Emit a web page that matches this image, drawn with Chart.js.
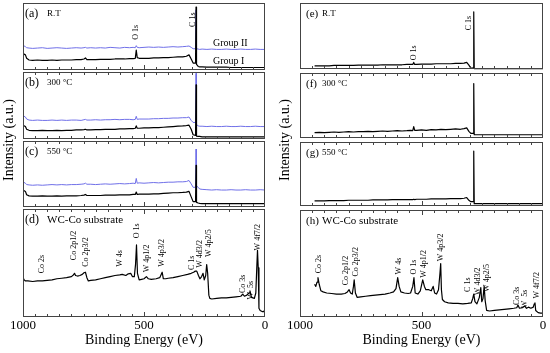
<!DOCTYPE html>
<html>
<head>
<meta charset="utf-8">
<script src="https://cdn.jsdelivr.net/npm/chart.js@4.4.1/dist/chart.umd.min.js"></script>
<style>
body { margin: 0; background: #fff; }
#wrap { position: relative; width: 550px; height: 353px; }
.box { position: absolute; top: 0; width: 275px; height: 353px; }
</style>
</head>
<body>
<div id="wrap">
  <div class="box" style="left:0"><canvas id="leftChart" width="275" height="353"></canvas></div>
  <div class="box" style="left:275px"><canvas id="rightChart" width="275" height="353"></canvas></div>
</div>
<script>
// energy grid (eV) used for panels a-c
var energyLeft = [1000, 990, 985, 975, 960, 940, 920, 900, 880, 860, 840, 820, 800, 780, 760, 748, 742, 736, 720, 700,
  680, 660, 640, 620, 600, 580, 560, 545, 536, 532, 528, 520, 500, 480, 460, 440, 420, 400, 380, 360,
  340, 325, 314, 305, 297, 287, 285, 283, 276, 270, 260, 240, 220, 200, 180, 160, 140, 120, 100, 80,
  60, 40, 20, 0];

// Group I (black) and Group II (blue), intensity in panel units (0-100)
var groupI_RT = [26, 24, 19, 16.5, 16, 16.5, 16, 16, 16.5, 16, 16.5, 16.5, 16.5, 17, 17, 18, 19.5, 17, 17, 17,
  17.5, 17.5, 17.5, 18, 18, 18, 18.5, 18.5, 19, 31, 20, 19, 19, 19, 19.5, 19.5, 20, 20, 20.5, 21,
  21, 22, 24, 18, 12, 12, 94, 10, 7, 6.5, 6.5, 6, 6, 6, 6, 6, 5.5, 5.5, 5.5, 5.5, 5.5, 5.5, 5.5, 5.5];
var groupII_RT = [38, 36, 34.5, 34, 33.5, 34, 34.5, 33.5, 34, 34.5, 34, 33.5, 34, 34.5, 34, 34.5, 35, 34, 34.5, 34,
  34.5, 34, 35, 34.5, 34, 35, 34.5, 35, 34.5, 37.5, 35, 34.5, 35, 35.5, 35, 35.5, 35, 35.5, 36, 35.5,
  36, 36.5, 37, 35, 33, 33, 90, 33, 32.5, 32, 32.5, 32, 32.5, 32, 32, 32.5, 32, 32, 32.5, 32, 32, 32.5, 32, 32];
var groupI_300 = [21, 19, 15, 13.5, 13, 13, 13.5, 13, 13, 13.5, 13, 13.5, 13.5, 14, 14, 14.5, 15, 14, 14, 14.5,
  14.5, 15, 15, 15, 15.5, 15.5, 16, 16, 16.5, 20, 16.5, 16.5, 17, 17, 17.5, 17.5, 18, 18.5, 19, 19.5,
  20, 20.5, 21, 15, 7, 6, 80, 5, 4.5, 4.5, 4, 4, 4, 4, 4, 4, 4, 4, 4, 4, 4, 4, 4, 4];
var groupII_300 = [35, 33, 30, 28.5, 28, 28.5, 28, 28, 28.5, 28, 28.5, 28, 28.5, 28.5, 28, 29, 29.5, 28.5, 28.5, 29,
  28.5, 29, 29, 29.5, 29, 29.5, 29.5, 29, 29.5, 34, 29.5, 30, 30, 30, 30.5, 30.5, 31, 31, 31.5, 31.5,
  32, 32, 33, 28, 25, 25, 97, 22, 20, 19.5, 19.5, 19, 19.5, 19, 19, 19.5, 19, 19, 19.5, 19, 19, 19.5, 19, 19];
var groupI_550 = [26, 24, 19, 17.5, 17, 17, 17.5, 17, 17, 17.5, 17, 17.5, 17.5, 17.5, 18, 18.5, 19.5, 18, 18, 18,
  18, 18.5, 18.5, 18.5, 19, 19, 19, 19.5, 19.5, 23, 19.5, 20, 20, 20, 20.5, 20.5, 21, 21.5, 22, 22,
  22.5, 23, 24, 16, 9, 9, 62, 8, 7, 6.5, 6, 6, 6, 6, 6, 6, 6, 6, 6, 6, 6, 6, 6, 6];
var groupII_550 = [38, 36, 34, 33.5, 33, 33.5, 33, 33.5, 34, 33.5, 34, 33.5, 34, 34, 34.5, 35, 36, 34.5, 34.5, 34,
  34.5, 35, 34.5, 35, 35.5, 35, 35.5, 36, 35.5, 43, 36, 36.5, 36, 36.5, 37, 36.5, 37, 37.5, 37.5, 38,
  38, 38.5, 40, 35, 30, 30, 86, 32, 30, 27.5, 27, 26.5, 26, 26.5, 26, 26, 26.5, 26, 26, 26.5, 26, 26, 26.5, 26];

// WC-Co substrate, left column (d)
var subEnergyL = [1000, 995, 990, 980, 960, 940, 920, 900, 880, 860, 840, 820, 800, 792, 787, 783, 775, 765, 755, 748,
  742, 736, 730, 720, 700, 680, 660, 640, 620, 600, 590, 575, 565, 555, 548, 540, 535, 531, 527, 520,
  510, 500, 490, 482, 470, 450, 435, 429, 425, 420, 410, 400, 380, 360, 340, 320, 305, 295, 288, 282,
  275, 269, 262, 256, 251, 245, 241, 237, 232, 228, 220, 200, 180, 160, 140, 120, 100, 92, 85, 75,
  66, 62, 56, 50, 44, 38, 34, 31, 28, 25, 20, 12, 5, 0];
var subValuesL = [36, 34, 33, 33, 32.5, 33, 33, 33.5, 34, 35, 35.5, 36, 37, 38.5, 40, 38, 37.5, 38, 39, 40.5,
  41, 36, 33, 33.5, 34, 35, 36, 37, 38, 38.5, 39, 38, 39.5, 40, 37, 37, 48, 66, 40, 34,
  34.5, 35, 37, 35, 34.5, 35, 36, 39, 41, 35, 35, 35.5, 36, 37, 38, 39, 40, 41, 42, 42,
  38, 35, 37, 40, 34, 38, 48, 40, 20, 17, 16.5, 17, 17.5, 17.5, 18, 18.5, 19, 21, 19, 20,
  22, 24, 18, 17.5, 17, 22, 45, 61, 45, 8, 6, 5, 5, 7];

// energy grid for panels e-g
var energyRight = [940, 920, 900, 880, 860, 840, 820, 800, 780, 760, 740, 720, 700, 680, 660, 640, 620, 600, 580, 560,
  545, 536, 532, 528, 520, 500, 480, 460, 440, 420, 400, 380, 360, 340, 325, 314, 305, 297, 291, 287,
  285, 283, 275, 270, 260, 240, 220, 200, 180, 160, 140, 120, 100, 80, 60, 40, 20, 0];
var sample_RT = [8, 8, 8, 8, 8.5, 8.5, 8.5, 8.5, 8.5, 9, 9, 9, 9, 9, 9.5, 9.5, 9.5, 9.5, 9.5, 10,
  10, 10, 13, 10, 10, 10.5, 10.5, 10.5, 11, 11, 11, 11, 11.5, 11.5, 12, 13, 9, 4.5, 4.5, 5,
  87, 4, 4, 4, 4, 4, 4, 4, 4, 4, 4, 4, 4, 4, 4, 4, 4, 4];
var sample_300 = [10, 10.5, 10, 10.5, 11, 10.5, 11, 11.5, 11, 11.5, 11.5, 12, 11.5, 12, 12.5, 12, 12.5, 13, 12.5, 13,
  13.5, 13, 19, 13.5, 13.5, 14, 13.5, 14.5, 14, 15, 14.5, 15, 15.5, 15, 16, 17, 12, 9, 9, 9,
  82, 7, 7, 7, 7, 7, 7, 7, 7, 7, 7, 7, 7, 7, 7, 7, 7, 7];
var sample_550 = [10, 10, 10, 10.5, 10.5, 10.5, 10.5, 11, 11, 11, 11, 11, 11.5, 11.5, 11.5, 11.5, 12, 12, 12, 12,
  12, 12, 12.5, 12, 12.5, 12.5, 12.5, 13, 13, 13, 13, 13.5, 13.5, 13.5, 14, 15, 11, 9, 9, 9,
  83, 6, 6, 6, 6, 6, 6, 6, 6, 6, 6, 6, 6, 6, 6, 6, 6, 6];

// WC-Co substrate, right column (h)
var subEnergyR = [940, 935, 930, 926, 921, 914, 905, 890, 870, 850, 830, 815, 805, 798, 792, 785, 780, 777, 772, 765,
  750, 730, 710, 690, 670, 650, 630, 615, 605, 598, 592, 585, 570, 555, 545, 536, 531, 526, 515, 505,
  495, 488, 482, 470, 460, 452, 446, 438, 430, 424, 421, 418, 414, 405, 390, 370, 350, 330, 310, 295,
  289, 285, 280, 272, 262, 256, 252, 247, 242, 238, 232, 220, 200, 180, 160, 140, 120, 108, 103, 97,
  85, 75, 68, 60, 50, 40, 36, 33, 30, 20, 10, 0];
var subValuesR = [30, 28, 32, 36, 30, 24, 23, 22, 21.5, 21, 21, 21.5, 23, 25, 22, 21, 28, 34, 22, 18,
  18.5, 19, 19.5, 20, 20.5, 21, 22, 23, 26, 36, 28, 23, 22, 21.5, 22, 28, 36, 22, 21, 24,
  34, 28, 25, 25, 24, 28, 22, 21, 25, 40, 49, 25, 16, 14, 13, 12.5, 12.5, 12, 12.5, 13,
  17, 21, 14, 12, 18, 27, 14, 17, 28, 15, 6, 5.5, 6, 6.5, 7, 7.5, 8, 8.5, 11, 8,
  8.5, 10, 8, 9, 8, 9, 12, 13, 6, 4, 3.5, 3.5];

// peak labels: [text, energy, panel value where the text starts]
var peaksA = [['O 1s', 533, 46], ['C 1s', 298, 65]];
var peaksE = [['O 1s', 531, 16], ['C 1s', 305, 60]];
var peaksD = [['Co 2s', 920, 40], ['Co 2p1/2', 789, 52], ['Co 2p3/2', 741, 46], ['W 4s', 599, 46],
  ['O 1s', 530, 72], ['W 4p1/2', 489, 41], ['W 4p3/2', 424, 46], ['C 1s', 303, 43],
  ['W 4d3/2', 269, 45], ['W 4p2/5', 231, 55], ['Co 3s', 90, 22], ['W  5s', 59, 16], ['W 4f7/2', 28, 61]];
var peaksH = [['Co 2s', 921, 40], ['Co 2p1/2', 811, 29], ['Co 2p3/2', 770, 37], ['W 4s', 595, 39],
  ['O 1s', 531, 39], ['W 4p1/2', 490, 36], ['W 4p3/2', 421, 51], ['C 1s', 307, 23],
  ['W 4d3/2', 266, 20], ['W 4p2/5', 232, 23], ['Co 3s', 108, 11], ['W  5s', 74, 8], ['W 4f7/2', 25, 17]];
var groupLabels = [['Group II', 215, 41], ['Group I', 215, 15]];

var SERIF = "'Liberation Serif', 'DejaVu Serif', serif";
var BLUE = 'rgb(112,112,232)';

function series(energies, values) {
  return energies.map(function (e, i) { return { x: e, y: values[i] }; });
}

function line(energies, values, axis, color, width) {
  return {
    data: series(energies, values),
    yAxisID: axis,
    borderColor: color,
    borderWidth: width,
    borderJoinStyle: 'round',
    pointRadius: 0,
    fill: false,
    tension: 0
  };
}

function panelScale(weight, stackWeight) {
  return {
    type: 'linear', position: 'left', stack: 'col', stackWeight: stackWeight, weight: weight,
    min: 0, max: 100,
    ticks: { display: false },
    grid: { display: false, drawTicks: false },
    border: { display: false },
    title: { display: false }
  };
}

// frame, inner ticks, panel tags and peak labels
var decor = {
  id: 'decor',
  afterDraw: function (chart, args, o) {
    var ctx = chart.ctx;
    var xs = chart.scales.x;
    var L = chart.chartArea.left, R = chart.chartArea.right;
    ctx.save();
    o.panels.forEach(function (p, i) {
      var s = chart.scales[p.scale];
      var top = Math.round(s.top) + (i > 0 ? o.gap : 0);
      var bot = Math.round(s.bottom) - (i < o.panels.length - 1 ? o.gap : 0);
      ctx.strokeStyle = '#444';
      ctx.lineWidth = 1;
      ctx.strokeRect(L + 0.5, top + 0.5, R - L - 1, bot - top - 1);
      ctx.beginPath();
      for (var e = 50; e < 1000; e += 50) {
        var px = Math.round(xs.getPixelForValue(e)) + 0.5;
        var len = e === 500 ? 5 : 3;
        ctx.moveTo(px, bot);
        ctx.lineTo(px, bot - len);
        if (i > 0) {
          ctx.moveTo(px, top);
          ctx.lineTo(px, top + len);
        }
      }
      ctx.stroke();

      ctx.fillStyle = '#000';
      ctx.textBaseline = 'middle';
      ctx.textAlign = 'left';
      ctx.font = o.tagSize + 'px ' + SERIF;
      ctx.fillText(p.tag, L + o.tagX, top + 11);
      ctx.font = (p.big ? 11 : 9) + 'px ' + SERIF;
      ctx.fillText(p.note, L + o.noteX, top + 11);

      (p.peaks || []).forEach(function (pk) {
        ctx.save();
        ctx.translate(xs.getPixelForValue(pk[1]), s.getPixelForValue(pk[2]));
        ctx.rotate(-Math.PI / 2);
        ctx.font = '8px ' + SERIF;
        ctx.textAlign = 'left';
        ctx.textBaseline = 'middle';
        ctx.fillText(pk[0], 0, 0);
        ctx.restore();
      });
      (p.groups || []).forEach(function (g) {
        ctx.font = '10px ' + SERIF;
        ctx.fillText(g[0], xs.getPixelForValue(g[1]), s.getPixelForValue(g[2]));
      });
    });

    ctx.save();
    ctx.translate(o.titleX, o.titleY);
    ctx.rotate(-Math.PI / 2);
    ctx.font = '14px ' + SERIF;
    ctx.textAlign = 'center';
    ctx.textBaseline = 'middle';
    ctx.fillText('Intensity (a.u.)', 0, 0);
    ctx.restore();
    ctx.restore();
  }
};

function makeChart(id, datasets, padding, decorOpts) {
  return new Chart(document.getElementById(id), {
    type: 'line',
    data: { datasets: datasets },
    options: {
      responsive: false,
      animation: false,
      layout: { padding: padding },
      plugins: { legend: { display: false }, tooltip: { enabled: false }, decor: decorOpts },
      scales: {
        x: {
          type: 'linear', position: 'bottom', min: 0, max: 1000, reverse: true,
          ticks: { stepSize: 500, maxRotation: 0, padding: 2.5, color: '#000',
            font: { family: SERIF, size: 13, lineHeight: 1 },
            callback: function (v) { return String(v); } },
          grid: { display: false, drawTicks: false },
          border: { display: false },
          title: { display: true, text: 'Binding Energy (eV)', color: '#000', padding: { top: -2, bottom: 0 },
            font: { family: SERIF, size: 14, lineHeight: 1 } }
        },
        ya: panelScale(4, 1),
        yb: panelScale(3, 1),
        yc: panelScale(2, 1),
        yd: panelScale(1, 1.6)
      }
    },
    plugins: [decor]
  });
}

makeChart('leftChart', [
  line(energyLeft, groupI_RT, 'ya', '#000', 1.2),
  line(energyLeft, groupII_RT, 'ya', BLUE, 1),
  line(energyLeft, groupI_300, 'yb', '#000', 1.2),
  line(energyLeft, groupII_300, 'yb', BLUE, 1),
  line(energyLeft, groupI_550, 'yc', '#000', 1.2),
  line(energyLeft, groupII_550, 'yc', BLUE, 1),
  line(subEnergyL, subValuesL, 'yd', '#000', 1.2)
], { top: 3, left: 23, right: 10, bottom: 6 }, {
  gap: 1, tagX: 2, noteX: 24, tagSize: 12, titleX: 9, titleY: 140,
  panels: [
    { scale: 'ya', tag: '(a)', note: 'R.T', peaks: peaksA, groups: groupLabels },
    { scale: 'yb', tag: '(b)', note: '300 °C' },
    { scale: 'yc', tag: '(c)', note: '550 °C' },
    { scale: 'yd', tag: '(d)', note: 'WC-Co substrate', big: true, peaks: peaksD }
  ]
});

makeChart('rightChart', [
  line(energyRight, sample_RT, 'ya', '#000', 1.2),
  line(energyRight, sample_300, 'yb', '#000', 1.2),
  line(energyRight, sample_550, 'yc', '#000', 1.2),
  line(subEnergyR, subValuesR, 'yd', '#000', 1.2)
], { top: 3, left: 25, right: 7, bottom: 6 }, {
  gap: 2, tagX: 6, noteX: 22, tagSize: 11, titleX: 10, titleY: 140,
  panels: [
    { scale: 'ya', tag: '(e)', note: 'R.T', peaks: peaksE },
    { scale: 'yb', tag: '(f)', note: '300 °C' },
    { scale: 'yc', tag: '(g)', note: '550 °C' },
    { scale: 'yd', tag: '(h)', note: 'WC-Co substrate', big: true, peaks: peaksH }
  ]
});
</script>
</body>
</html>
